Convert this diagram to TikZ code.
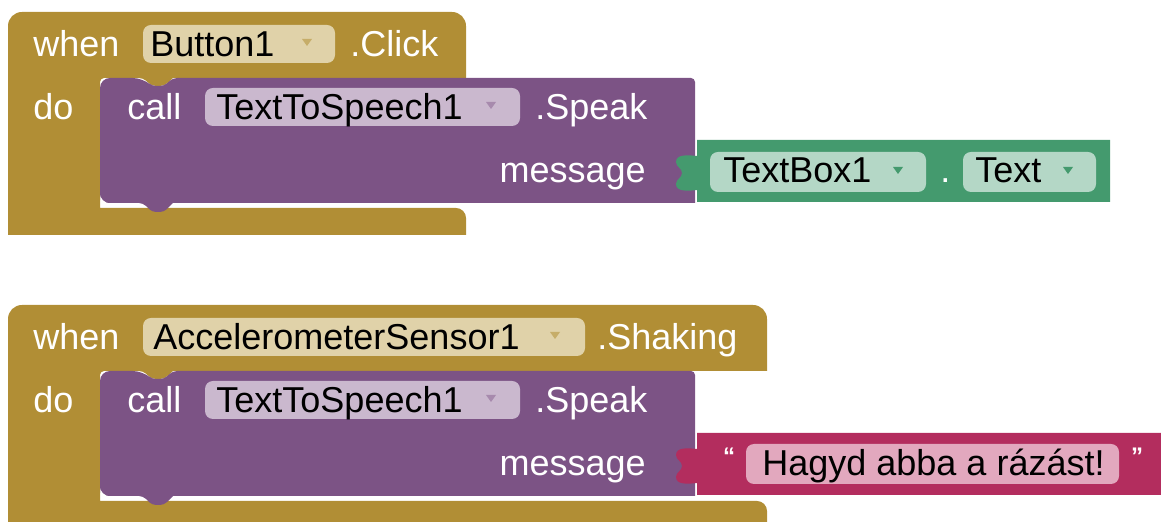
\documentclass[tikz,border=0pt]{standalone}
\usepackage{fontspec}
\setmainfont{Liberation Sans}
\definecolor{eventcol}{HTML}{B18E35}
\definecolor{methodcol}{HTML}{7C5385}
\definecolor{gettercol}{HTML}{449A6E}
\definecolor{textcol}{HTML}{B32D5E}
\definecolor{eventfield}{HTML}{E0D2A9}
\definecolor{methodfield}{HTML}{CAB8CE}
\definecolor{getterfield}{HTML}{B4D7C6}
\definecolor{textfield}{HTML}{E2A8BE}
\begin{document}
\begin{tikzpicture}[x=0.5pt,y=-0.5pt,line join=round,
  every node/.style={font=\fontsize{18}{20}\selectfont,inner sep=0pt},
  lbl/.style={text=white,anchor=base west},
  val/.style={text=black,anchor=base west},
  quot/.style={text=white,anchor=base,font=\fontsize{12}{12}\selectfont\bfseries},
  fieldbox/.style={rounded corners=4pt}]
\useasboundingbox (0,0) rectangle (1161,522);

% First event block: when Button1.Click
\fill[eventcol] (8,200) [rounded corners=7pt] -- (8,12) -- (466,12) [sharp corners] -- (466,78) -- (173,78)
  [rounded corners=2pt] -- (164,86) -- (152,86) -- (143,78) -- (100,78) [sharp corners] -- (100,208)
  [rounded corners=5pt] -- (466,208) [sharp corners] -- (466,235) -- (8,235) [rounded corners=5pt] -- (8,190) -- cycle;
\fill[methodcol] (100,190) [rounded corners=5pt] -- (100,78) -- (143,78) [rounded corners=2pt] -- (152,86)
  -- (164,86) -- (173,78) -- (695,78) [sharp corners] -- (695,203) -- (173,203) [rounded corners=2pt]
  -- (164,212) -- (152,212) -- (143,203) -- (110,203) [rounded corners=5pt] -- (100,203) -- cycle;
\fill[gettercol] (697,140) -- (1110,140) -- (1110,202) -- (697,202) -- (697,190)
  .. controls (688,191) and (676,192) .. (676,184) .. controls (676,179) and (682,178) .. (682,173)
  .. controls (682,168) and (676,167) .. (676,162) .. controls (676,154) and (688,155) .. (697,156) -- cycle;

% Header row
\node[lbl] (when1) at (33,57) {when};
\fill[eventfield,fieldbox] (143,25) rectangle (335,63);
\node[val] (button) at (150,57) {Button1};
\fill[eventcol!55!eventfield] (302,39) -- (312,39) -- (307,46) -- cycle;
\node[lbl] (click) at (350,57) {.Click};

% Method call and its argument
\node[lbl] (do1) at (33,120) {do};
\node[lbl] (call1) at (127,120) {call};
\fill[methodfield,fieldbox] (205,88) rectangle (520,126);
\node[val] (speech1) at (216,120) {TextToSpeech1};
\fill[methodcol!45!methodfield] (486,102) -- (496,102) -- (491,109) -- cycle;
\node[lbl] (speak1) at (535,120) {.Speak};
\node[lbl,anchor=base east] (msg1) at (646,183) {message};
\fill[getterfield,fieldbox] (710,152) rectangle (926,192);
\node[val] (textbox) at (723,183) {TextBox1};
\fill[gettercol] (893,167) -- (903,167) -- (898,174) -- cycle;
\node[lbl] (dot) at (940,183) {.};
\fill[getterfield,fieldbox] (963,152) rectangle (1096,192);
\node[val] (prop) at (975,183) {Text};
\fill[gettercol] (1063,167) -- (1073,167) -- (1068,174) -- cycle;

% Second event block: when AccelerometerSensor1.Shaking
\begin{scope}[shift={(0,293)}]
\fill[eventcol] (8,200) [rounded corners=7pt] -- (8,12) -- (767,12) [sharp corners] -- (767,78) -- (173,78)
  [rounded corners=2pt] -- (164,86) -- (152,86) -- (143,78) -- (100,78) [sharp corners] -- (100,208)
  [rounded corners=5pt] -- (767,208) [sharp corners] -- (767,235) -- (8,235) -- cycle;
\fill[methodcol] (100,190) [rounded corners=5pt] -- (100,78) -- (143,78) [rounded corners=2pt] -- (152,86)
  -- (164,86) -- (173,78) -- (695,78) [sharp corners] -- (695,203) -- (173,203) [rounded corners=2pt]
  -- (164,212) -- (152,212) -- (143,203) -- (110,203) [rounded corners=5pt] -- (100,203) -- cycle;
\fill[textcol] (697,140) -- (1161,140) -- (1161,202) -- (697,202) -- (697,190)
  .. controls (688,191) and (676,192) .. (676,184) .. controls (676,179) and (682,178) .. (682,173)
  .. controls (682,168) and (676,167) .. (676,162) .. controls (676,154) and (688,155) .. (697,156) -- cycle;

\node[lbl] (when2) at (33,57) {when};
\fill[eventfield,fieldbox] (143,25) rectangle (585,63);
\node[val] (sensor) at (153,57) {AccelerometerSensor1};
\fill[eventcol!55!eventfield] (550,39) -- (560,39) -- (555,46) -- cycle;
\node[lbl] (shaking) at (597,57) {.Shaking};

\node[lbl] (do2) at (33,120) {do};
\node[lbl] (call2) at (127,120) {call};
\fill[methodfield,fieldbox] (205,88) rectangle (520,126);
\node[val] (speech2) at (216,120) {TextToSpeech1};
\fill[methodcol!45!methodfield] (486,102) -- (496,102) -- (491,109) -- cycle;
\node[lbl] (speak2) at (535,120) {.Speak};
\node[lbl,anchor=base east] (msg2) at (646,183) {message};
\node[quot] (lquote) at (729,172) {“};
\fill[textfield,fieldbox] (746,151) rectangle (1119,191);
\node[val] (phrase) at (762,183) {Hagyd abba a rázást!};
\node[quot] (rquote) at (1137,172) {”};
\end{scope}
\end{tikzpicture}
\end{document}
